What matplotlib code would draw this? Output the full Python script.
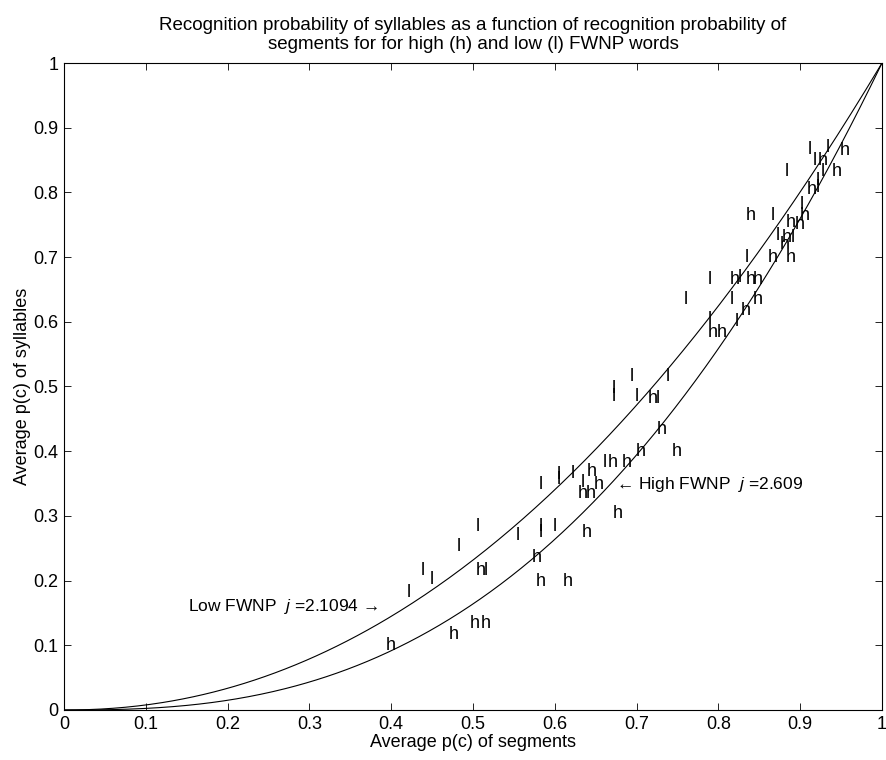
import numpy as np
import matplotlib
matplotlib.use("Agg")
import matplotlib.pyplot as plt

plt.rcParams['font.family'] = ['Liberation Sans', 'DejaVu Sans']
plt.rcParams['mathtext.fontset'] = 'custom'
plt.rcParams['mathtext.rm'] = 'Liberation Sans'
plt.rcParams['mathtext.it'] = 'Liberation Sans:italic'

# fitted exponents
j_low = 2.1094
j_high = 2.609

# high FWNP words (h)
h_seg = [0.400, 0.477, 0.502, 0.516, 0.509, 0.578, 0.583, 0.616, 0.639, 0.677,
         0.634, 0.644, 0.654, 0.645, 0.671, 0.688, 0.705, 0.749, 0.731, 0.720,
         0.793, 0.804, 0.834, 0.848, 0.820, 0.839, 0.848, 0.867, 0.888, 0.881,
         0.884, 0.888, 0.900, 0.839, 0.906, 0.914, 0.945, 0.927, 0.955]
h_syl = [0.100, 0.116, 0.133, 0.133, 0.216, 0.235, 0.199, 0.199, 0.275, 0.304,
         0.334, 0.334, 0.349, 0.368, 0.382, 0.382, 0.399, 0.399, 0.433, 0.482,
         0.583, 0.583, 0.618, 0.634, 0.666, 0.665, 0.665, 0.700, 0.700, 0.719,
         0.731, 0.753, 0.750, 0.765, 0.765, 0.804, 0.832, 0.849, 0.864]

# low FWNP words (l)
l_seg = [0.422, 0.439, 0.450, 0.483, 0.516, 0.506, 0.555, 0.583, 0.583, 0.600,
         0.583, 0.605, 0.605, 0.622, 0.634, 0.661, 0.672, 0.672, 0.694, 0.700,
         0.726, 0.738, 0.760, 0.789, 0.817, 0.826, 0.823, 0.789, 0.835, 0.867,
         0.873, 0.891, 0.902, 0.922, 0.921, 0.928, 0.884, 0.918, 0.912, 0.934]
l_syl = [0.182, 0.216, 0.201, 0.252, 0.216, 0.284, 0.270, 0.274, 0.283, 0.283,
         0.349, 0.356, 0.364, 0.366, 0.351, 0.383, 0.484, 0.497, 0.515, 0.484,
         0.482, 0.515, 0.634, 0.666, 0.634, 0.668, 0.600, 0.603, 0.700, 0.765,
         0.734, 0.731, 0.781, 0.807, 0.819, 0.832, 0.832, 0.849, 0.866, 0.869]

fig = plt.figure(figsize=(8.86, 7.6), dpi=100)
ax = fig.add_axes([0.0722, 0.0658, 0.9233, 0.8513])

# Sketch the two power curves
x = np.linspace(0, 1, 400)
ax.plot(x, x ** j_low, color='black', linewidth=0.8)
ax.plot(x, x ** j_high, color='black', linewidth=0.8)

# letters as markers
for xs, ys in zip(h_seg, h_syl):
    ax.text(xs, ys, 'h', fontsize=13, ha='center', va='center')
for xs, ys in zip(l_seg, l_syl):
    ax.text(xs, ys, 'l', fontsize=13, ha='center', va='center')

ax.text(0.152, 0.160, r'Low FWNP  $\it{j}$ =2.1094 →', fontsize=12.5,
        ha='left', va='center')
ax.text(0.675, 0.349, r'← High FWNP  $\it{j}$ =2.609', fontsize=12.5,
        ha='left', va='center')

ax.set_xlim(0, 1)
ax.set_ylim(0, 1)
ticks = np.arange(0, 1.01, 0.1)
labels = ['0'] + ['%.1f' % t for t in ticks[1:-1]] + ['1']
ax.set_xticks(ticks)
ax.set_xticklabels(labels)
ax.set_yticks(ticks)
ax.set_yticklabels(labels)
ax.tick_params(direction='in', top=True, right=True, length=5, width=0.6,
               labelsize=13, pad=4)
for s in ax.spines.values():
    s.set_linewidth(0.8)

ax.set_xlabel('Average p(c) of segments', fontsize=13, labelpad=1)
ax.set_ylabel('Average p(c) of syllables', fontsize=13, labelpad=2)
ax.set_title('Recognition probability of syllables as a function of recognition probability of\n'
             'segments for for high (h) and low (l) FWNP words', fontsize=13.5, pad=10)

fig.savefig('out.png', dpi=100)
